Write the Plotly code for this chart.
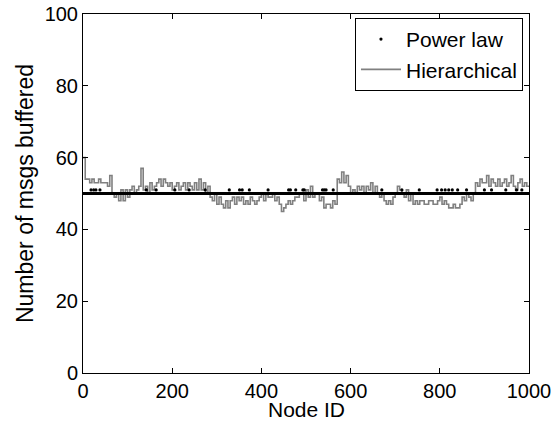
import plotly.graph_objects as go

# Node IDs
node_ids = list(range(1, 1001))

# Power law: baseline buffer count and nodes that buffered one extra message
power_law_base = 50
power_law_51_nodes = [18, 24, 29, 38, 142, 164, 206, 238, 274, 328, 351, 357, 373,
                      415, 461, 465, 477, 493, 496, 537, 541, 545, 561, 670, 715,
                      754, 794, 804, 812, 820, 828, 840, 860, 900, 916, 948, 972, 984]
power_law = [51 if n in power_law_51_nodes else power_law_base for n in node_ids]

# Hierarchical: values read every 5 nodes (step line)
hier_x = list(range(0, 1001, 5))
hier_y = [
    60, 54, 54, 53, 54, 53, 53, 54, 53, 53, 53, 52, 55, 50,
    49, 50, 48, 51, 48, 51, 49, 51, 52, 50, 51, 52, 57, 51,
    52, 50, 53, 51, 52, 53, 54, 52, 54, 53, 52, 53, 51, 52,
    53, 51, 52, 53, 51, 53, 52, 51, 53, 51, 54, 51, 53, 50,
    52, 49, 48, 50, 47, 49, 47, 46, 48, 46, 48, 49, 47, 49,
    48, 49, 47, 48, 47, 49, 48, 47, 48, 49, 50, 48, 50, 49,
    49, 50, 48, 49, 47, 45, 46, 47, 48, 47, 48, 49, 49, 50,
    50, 48, 51, 49, 52, 49, 50, 50, 48, 49, 46, 47, 47, 46,
    48, 47, 54, 53, 56, 53, 55, 52, 50, 51, 50, 52, 51, 52,
    50, 52, 51, 53, 50, 52, 50, 49, 50, 48, 47, 48, 47, 49,
    50, 52, 51, 50, 49, 51, 48, 50, 47, 48, 47, 48, 48, 47,
    47, 48, 48, 47, 47, 48, 49, 47, 48, 47, 46, 46, 47, 46,
    46, 47, 49, 48, 50, 49, 48, 50, 53, 52, 54, 53, 53, 55,
    52, 54, 53, 52, 54, 52, 53, 54, 52, 53, 55, 52, 51, 53,
    54, 52, 53, 52, 52,
]

x_ticks = [0, 200, 400, 600, 800, 1000]
y_ticks = [0, 20, 40, 60, 80, 100]

fig = go.Figure()
fig.add_trace(go.Scatter(
    x=hier_x, y=hier_y, mode="lines", name="Hierarchical",
    line=dict(color="#808080", width=1.6, shape="hv"),
))
fig.add_trace(go.Scatter(
    x=node_ids, y=power_law, mode="markers", name="Power law",
    marker=dict(color="black", size=3.2, line=dict(width=0)),
))

axis_common = dict(
    showgrid=False, zeroline=False, showline=True, linecolor="black", linewidth=1,
    mirror="allticks", ticks="inside", ticklen=5, tickcolor="black",
    tickfont=dict(size=20, color="black"),
)

fig.update_layout(
    width=559, height=421,
    margin=dict(l=83, r=30, t=14, b=48, pad=0),
    paper_bgcolor="white", plot_bgcolor="white",
    font=dict(family="Arial, Liberation Sans, sans-serif", color="black"),
    showlegend=True,
    legend=dict(
        x=0.9865, y=0.989, xanchor="right", yanchor="top",
        bordercolor="black", borderwidth=1, bgcolor="white",
        font=dict(size=21), tracegroupgap=0, traceorder="reversed",
        itemwidth=40,
    ),
    xaxis=dict(
        range=[0, 1000], tickvals=x_ticks, automargin=False,
        **axis_common,
    ),
    yaxis=dict(
        range=[0, 100], tickvals=y_ticks, automargin=False,
        title=dict(text="Number of msgs buffered", font=dict(size=23), standoff=4),
        **axis_common,
    ),
    annotations=[dict(
        text="Node ID", xref="paper", yref="paper", x=0.5, y=0,
        xanchor="center", yanchor="middle", yshift=-36, showarrow=False,
        font=dict(size=21, color="black"),
    )],
)

fig.write_html("out.html", post_script="document.body.style.margin='0px';",
               config={"displayModeBar": False})
